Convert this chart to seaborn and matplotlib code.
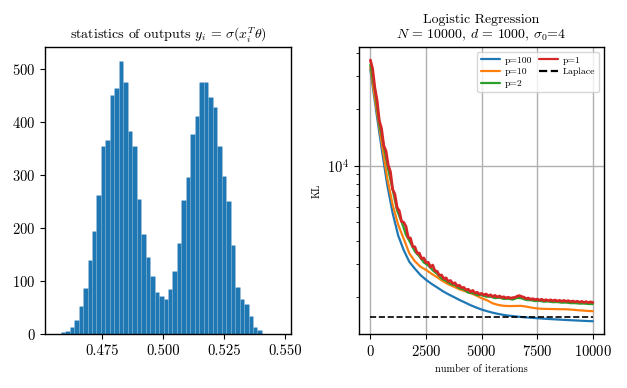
import numpy as np
import pandas as pd
import matplotlib
matplotlib.use("Agg")
import matplotlib.pyplot as plt
import seaborn as sns

# ------------------------------------------------------------
# data
# ------------------------------------------------------------

# histogram of outputs y_i (50 bins between the min and max output)
hist_range = (0.4563, 0.5477)
hist_counts = [1, 4, 6, 14, 27, 54, 88, 141, 195, 262,
               356, 367, 452, 465, 516, 476, 384, 355, 255, 189,
               145, 109, 79, 72, 66, 85, 119, 172, 253, 296,
               377, 412, 475, 475, 447, 428, 355, 299, 252, 168,
               89, 67, 57, 34, 13, 8, 1, 0, 0, 1]

# KL curves, log scale
iters_coarse = np.arange(0, 10001, 250)   # p=100, p=10
iters_mid = np.arange(0, 10001, 200)      # p=2
iters_fine = np.arange(0, 10001, 100)     # p=1

kl_p100 = [32500, 20000, 12500, 8000, 5600, 4250, 3550, 3080, 2830, 2620,
           2470, 2350, 2250, 2150, 2070, 2000, 1930, 1870, 1810, 1760,
           1715, 1680, 1650, 1625, 1605, 1590, 1578, 1567, 1558, 1550,
           1542, 1535, 1528, 1522, 1516, 1510, 1505, 1500, 1495, 1490,
           1486]

kl_p10 = [33500, 21000, 13500, 8700, 6200, 4850, 4080, 3420, 3100, 2900,
          2790, 2660, 2550, 2430, 2340, 2270, 2200, 2150, 2100, 2040,
          1970, 1920, 1850, 1815, 1795, 1790, 1792, 1795, 1780, 1755,
          1738, 1730, 1728, 1725, 1722, 1722, 1715, 1705, 1695, 1688,
          1680]

kl_p2 = [34500, 25400, 16800, 12800, 9600, 7500, 5800, 5050, 4300, 3890,
         3500, 3300, 3060, 2950, 2780, 2660, 2510, 2440, 2350, 2315,
         2230, 2195, 2110, 2100, 2050, 2050, 2010, 2010, 1975, 1985,
         1955, 1960, 1940, 1980, 1970, 1930, 1925, 1905, 1910, 1890,
         1895, 1880, 1882, 1868, 1870, 1856, 1858, 1846, 1848, 1838,
         1836]

kl_p1 = [36600, 32800, 26000, 22300, 17400, 15800, 12800, 12000, 10100, 9300,
         7500, 7050, 6000, 5750, 5050, 5000, 4750, 4150, 4120, 3720,
         3700, 3420, 3430, 3200, 3230, 3050, 3060, 2890, 2960, 2760,
         2740, 2610, 2620, 2500, 2530, 2420, 2450, 2360, 2380, 2290,
         2310, 2240, 2250, 2180, 2200, 2130, 2170, 2100, 2120, 2070,
         2090, 2050, 2075, 2030, 2055, 2010, 2040, 2000, 2025, 1990,
         2005, 1975, 1995, 1970, 1985, 1990, 2020, 2035, 2010, 1995,
         1960, 1975, 1945, 1960, 1935, 1950, 1925, 1945, 1915, 1935,
         1912, 1932, 1908, 1928, 1902, 1920, 1898, 1918, 1895, 1912,
         1888, 1905, 1882, 1900, 1876, 1895, 1872, 1890, 1866, 1885,
         1870]

kl_laplace = 1562

series = [("p=100", iters_coarse, kl_p100, "#1f77b4", 1.6),
          ("p=10", iters_coarse, kl_p10, "#ff7f0e", 1.6),
          ("p=2", iters_mid, kl_p2, "#2ca02c", 1.7),
          ("p=1", iters_fine, kl_p1, "#d62728", 2.0)]

# ------------------------------------------------------------
# style
# ------------------------------------------------------------
sns.set_style("ticks")
plt.rcParams.update({
    "font.family": "serif",
    "font.serif": ["cmr10"],
    "mathtext.fontset": "cm",
    "axes.formatter.use_mathtext": True,
    "axes.unicode_minus": False,
    "axes.edgecolor": "black",
    "axes.linewidth": 1.0,
    "xtick.color": "black",
    "ytick.color": "black",
    "text.color": "black",
    "axes.labelcolor": "black",
    "xtick.major.size": 3.5,
    "ytick.major.size": 3.5,
    "xtick.minor.size": 2.0,
    "ytick.minor.size": 2.0,
    "xtick.major.width": 0.8,
    "ytick.major.width": 0.8,
    "ytick.minor.width": 0.6,
})

fig = plt.figure(figsize=(6.27, 3.88), dpi=100)
ax1 = fig.add_axes([0.0718, 0.1384, 0.3923, 0.7405])
ax2 = fig.add_axes([0.5730, 0.1384, 0.3903, 0.7405])

# ------------------------------------------------------------
# left: histogram
# ------------------------------------------------------------
n_bins = len(hist_counts)
edges = np.linspace(hist_range[0], hist_range[1], n_bins + 1)
centers = (edges[:-1] + edges[1:]) / 2
sns.histplot(x=centers, weights=hist_counts, bins=n_bins, binrange=hist_range,
             color="#1f77b4", alpha=1, edgecolor=(1, 1, 1, 0.15), linewidth=0.4,
             ax=ax1)
ax1.set_ylabel("")
ax1.set_xticks([0.475, 0.500, 0.525, 0.550])
ax1.set_xticklabels(["0.475", "0.500", "0.525", "0.550"])
ax1.set_yticks([0, 100, 200, 300, 400, 500])
ax1.tick_params(labelsize=10.5)
ax1.set_title(r"statistics of outputs $y_i \,=\, \sigma(x_i^T \theta)$", fontsize=10)

# ------------------------------------------------------------
# right: KL vs iterations
# ------------------------------------------------------------
for label, xs, ys, col, lw in series:
    sns.lineplot(x=xs, y=ys, color=col, linewidth=lw, label=label, ax=ax2)
sns.lineplot(x=[0, 10000], y=[kl_laplace, kl_laplace], color="black",
             linestyle="--", linewidth=1.2, label="Laplace", ax=ax2)

ax2.set_yscale("log")
ax2.set_xticks([0, 2500, 5000, 7500, 10000])
ax2.grid(True, which="major", color="#b0b0b0", linewidth=1.0)
ax2.set_axisbelow(True)
ax2.tick_params(labelsize=10.5)
ax2.set_xlabel("number of iterations", fontsize=7.5)
ax2.set_ylabel("KL", fontsize=7.5)
ax2.set_title("Logistic Regression\n$N \\,=\\, 10000$, $d \\,=\\, 1000$, $\\sigma_0$=4",
              fontsize=10, linespacing=1.15)

handles, labels = ax2.get_legend_handles_labels()
leg = ax2.legend(handles, labels, loc="upper right", ncol=2, fontsize=7,
                 frameon=True, borderpad=0.4, labelspacing=0.3,
                 handlelength=2.0, columnspacing=0.6, handletextpad=0.5)
for line in leg.get_lines():
    line.set_linewidth(1.6)

fig.savefig("out.png", dpi=100)
